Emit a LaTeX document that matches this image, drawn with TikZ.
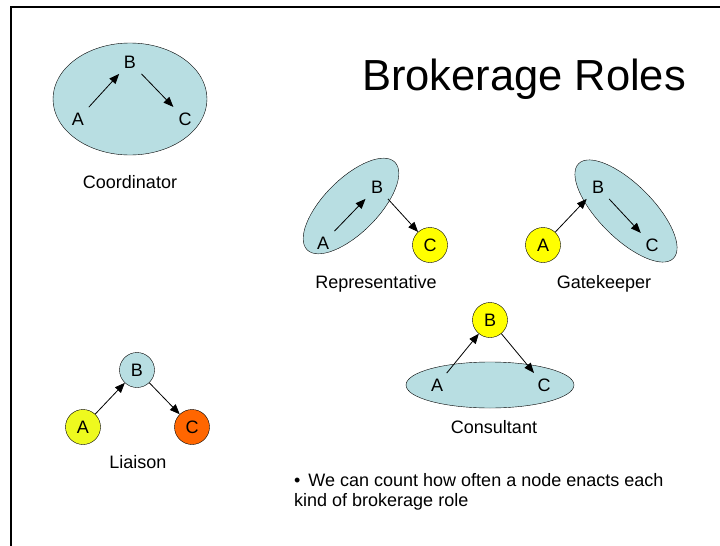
\documentclass[tikz,border=0pt]{standalone}
\usepackage{fontspec}
\setmainfont{Liberation Sans}
\usepackage{xcolor}
\usetikzlibrary{shapes,arrows.meta,positioning}

\definecolor{grpblue}{RGB}{184,222,226}
\definecolor{ayellow}{RGB}{255,255,0}
\definecolor{lyellow}{RGB}{238,250,30}
\definecolor{corange}{RGB}{255,102,0}

\begin{document}
\begin{tikzpicture}[x=1pt, y=-1pt]
  \tikzstyle{grp}=[ellipse, draw, thin, fill=grpblue, inner sep=0pt]
  \tikzstyle{lbl}=[font=\fontsize{18}{21}\selectfont, inner sep=5.5pt]
  \tikzstyle{actor}=[circle, draw, thin, minimum size=35pt, inner sep=0pt, font=\fontsize{18}{21}\selectfont]
  \tikzstyle{role}=[font=\fontsize{18}{21}\selectfont, anchor=base]
  \tikzstyle{tie}=[-{Triangle[length=10pt, width=8pt]}, line width=0.8pt]

  \useasboundingbox (0,0) rectangle (720,546);

  % Frame
  \draw[line width=2.5pt] (720,7) -- (11,7) -- (11,546);

  % Title
  \node[font=\fontsize{43.5}{50}\selectfont, anchor=base] (title) at (524,90) {Brokerage Roles};

  % Coordinator
  \node[grp, minimum width=154pt, minimum height=112pt] (cE) at (130,99) {};
  \node[lbl] (cA) at (78,119) {A};
  \node[lbl] (cB) at (130,62) {B};
  \node[lbl] (cC) at (185,119) {C};
  \draw[tie] (cA) -- (cB);
  \draw[tie] (cB) -- (cC);
  \node[role] (cT) at (130,188) {Coordinator};

  % Representative
  \node[grp, minimum width=124pt, minimum height=54pt, rotate=45] (rE) at (351,206) {};
  \node[lbl] (rA) at (323,243) {A};
  \node[lbl] (rB) at (377,187) {B};
  \node[actor, fill=ayellow] (rC) at (430,245) {C};
  \draw[tie] (rA) -- (rB);
  \draw[tie] (rB) -- (rC);
  \node[role] (rT) at (376,288) {Representative};

  % Gatekeeper
  \node[grp, minimum width=134pt, minimum height=54pt, rotate=-45] (gE) at (626,211) {};
  \node[actor, fill=ayellow] (gA) at (543,245) {A};
  \node[lbl] (gB) at (598,187) {B};
  \node[lbl] (gC) at (652,245) {C};
  \draw[tie] (gA) -- (gB);
  \draw[tie] (gB) -- (gC);
  \node[role] (gT) at (604,288) {Gatekeeper};

  % Consultant
  \node[grp, minimum width=168pt, minimum height=46pt] (kE) at (490,385) {};
  \node[lbl] (kA) at (437,385) {A};
  \node[actor, fill=ayellow] (kB) at (490,320) {B};
  \node[lbl] (kC) at (544,385) {C};
  \draw[tie] (kA) -- (kB);
  \draw[tie] (kB) -- (kC);
  \node[role] (kT) at (494,433) {Consultant};

  % Liaison
  \node[actor, fill=lyellow] (lA) at (83,427) {A};
  \node[actor, fill=grpblue] (lB) at (137,370) {B};
  \node[actor, fill=corange] (lC) at (192,427) {C};
  \draw[tie] (lA) -- (lB);
  \draw[tie] (lB) -- (lC);
  \node[role] (lT) at (138,468) {Liaison};

  % Note
  \node[font=\fontsize{18}{20}\selectfont, anchor=base west, align=left, inner sep=0pt] (note) at (294,506)
    {\textbullet\hspace{8pt}We can count how often a node enacts each\\kind of brokerage role};
\end{tikzpicture}
\end{document}
